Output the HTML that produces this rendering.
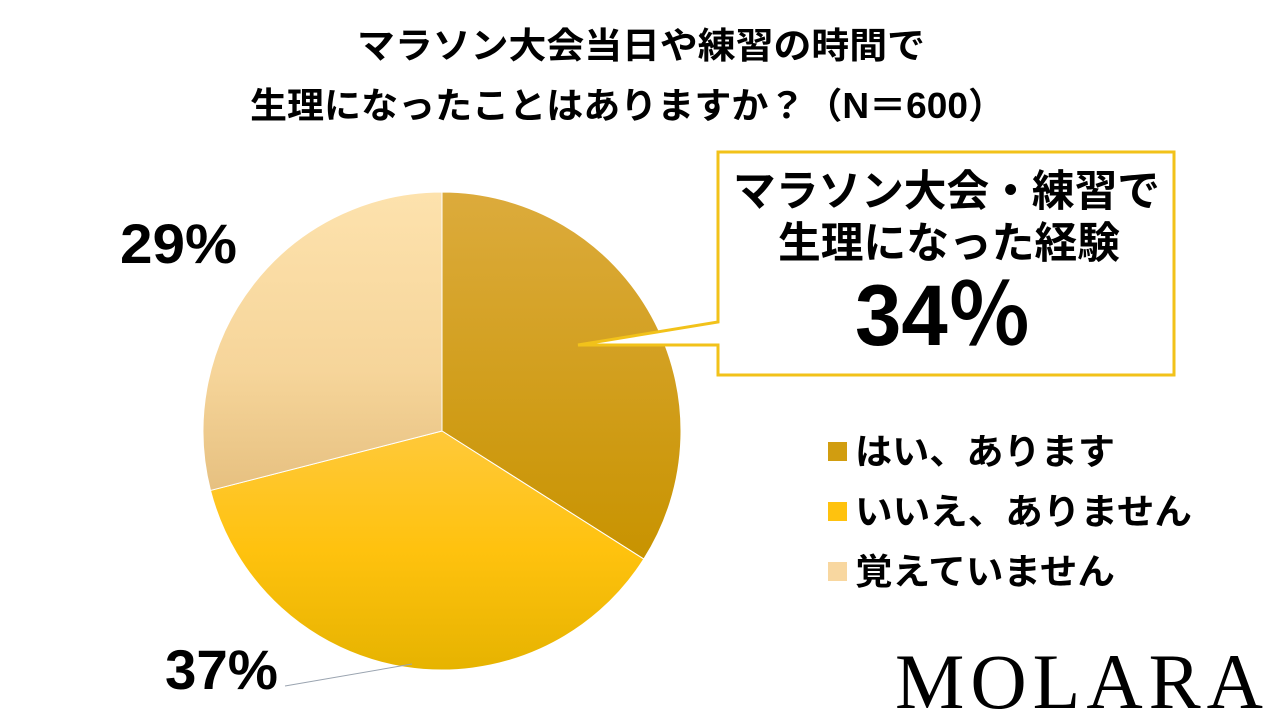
<!DOCTYPE html>
<html><head><meta charset="utf-8"><style>
body{margin:0;width:1280px;height:720px;background:#fff;overflow:hidden;font-family:"Liberation Sans","Noto Sans CJK JP",sans-serif;}
svg{position:absolute;left:0;top:0}
</style></head><body>
<svg width="1280" height="720">
<defs>
<linearGradient id="g0" x1="0" y1="0" x2="0" y2="1"><stop offset="0" stop-color="#dcab3c"/><stop offset="1" stop-color="#c89300"/></linearGradient>
<linearGradient id="g1" x1="0" y1="0" x2="0" y2="1"><stop offset="0" stop-color="#ffc93a"/><stop offset="0.5" stop-color="#ffc20e"/><stop offset="1" stop-color="#e6b300"/></linearGradient>
<linearGradient id="g2" x1="0" y1="0" x2="0" y2="1"><stop offset="0" stop-color="#fde2ad"/><stop offset="0.6" stop-color="#f6d59a"/><stop offset="1" stop-color="#e6c080"/></linearGradient>
</defs>
<text x="357" y="58" textLength="568" lengthAdjust="spacingAndGlyphs" font-size="36" font-weight="bold">マラソン大会当日や練習の時間で</text>
<text x="250" y="118" textLength="755" lengthAdjust="spacingAndGlyphs" font-size="36" font-weight="bold">生理になったことはありますか？（N＝600）</text>
<g id="slices"></g>
<line x1="285" y1="686" x2="412" y2="664" stroke="#9aa4b0" stroke-width="1"/>
<text x="120" y="263" textLength="117" lengthAdjust="spacingAndGlyphs" font-size="56" font-weight="bold">29%</text>
<text x="165" y="689" textLength="113" lengthAdjust="spacingAndGlyphs" font-size="56" font-weight="bold">37%</text>
<path d="M718,152 H1174 V375 H718 V345 L578,345 L718,322 Z" fill="#fff" stroke="#f2c21a" stroke-width="3"/>
<text x="733" y="206" textLength="427" lengthAdjust="spacingAndGlyphs" font-size="43" font-weight="bold">マラソン大会・練習で</text>
<text x="778" y="258" textLength="342" lengthAdjust="spacingAndGlyphs" font-size="43" font-weight="bold">生理になった経験</text>
<text x="855" y="345" textLength="176" lengthAdjust="spacingAndGlyphs" font-size="86" font-weight="bold">34％</text>
<g id="legend"></g>
<text x="1082" y="708" text-anchor="middle" font-family="Liberation Serif,serif" font-size="78" letter-spacing="6">MOLARA</text>
</svg>
<script>
const categories=["はい、あります","いいえ、ありません","覚えていません"];
const values=[34,37,29];
const fills=["url(#g0)","url(#g1)","url(#g2)"];
const legendColors=["#d19d10","#ffc20e","#f8d7a0"];
const legendWidths=[260,337,260];
const cx=442,cy=431,r=239,NS="http://www.w3.org/2000/svg";
const total=values.reduce((a,b)=>a+b,0);
let a0=0;const g=document.getElementById('slices');
function pt(a){return [cx+r*Math.sin(a),cy-r*Math.cos(a)];}
values.forEach((v,i)=>{const a1=a0+v/total*2*Math.PI;const p0=pt(a0),p1=pt(a1);
const p=document.createElementNS(NS,'path');
p.setAttribute('d',`M${cx},${cy}L${p0[0]},${p0[1]}A${r},${r} 0 ${a1-a0>Math.PI?1:0} 1 ${p1[0]},${p1[1]}Z`);
p.setAttribute('fill',fills[i]);p.setAttribute('stroke','#fff');p.setAttribute('stroke-width','1');


g.appendChild(p);a0=a1;});
const lg=document.getElementById('legend');
categories.forEach((c,i)=>{const y=452+i*60;
const s=document.createElementNS(NS,'rect');s.setAttribute('x',828);s.setAttribute('y',y-10);s.setAttribute('width',19);s.setAttribute('height',19);s.setAttribute('fill',legendColors[i]);


lg.appendChild(s);
const t=document.createElementNS(NS,'text');t.setAttribute('x',855);t.setAttribute('y',y+12);t.setAttribute('font-size','36');t.setAttribute('font-weight','bold');
t.setAttribute('textLength',legendWidths[i]);t.setAttribute('lengthAdjust','spacingAndGlyphs');t.textContent=c;


lg.appendChild(t);});
</script>
</body></html>
